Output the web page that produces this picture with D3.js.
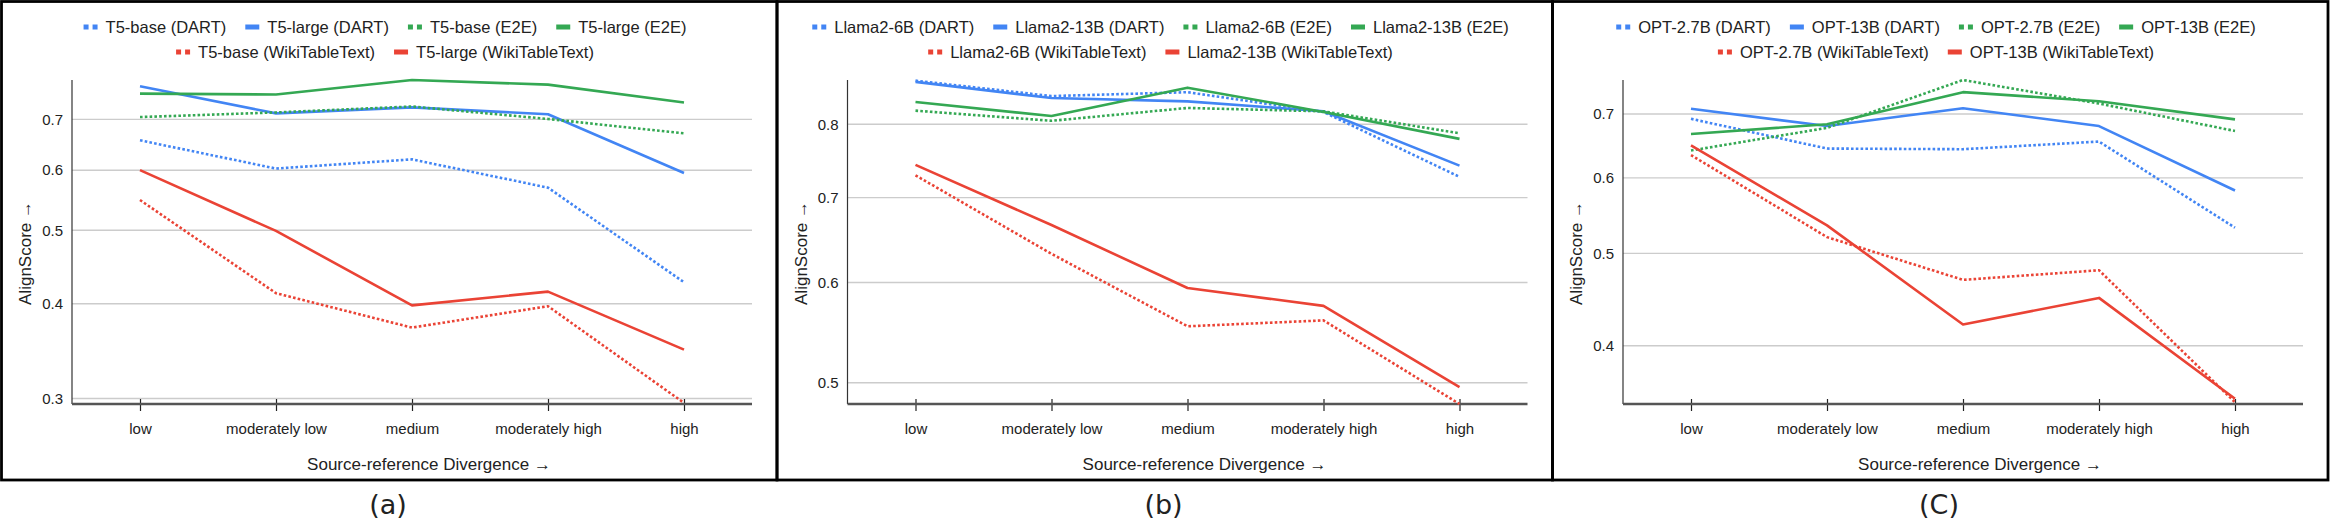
<!DOCTYPE html>
<html>
<head>
<meta charset="utf-8">
<script src="https://cdn.jsdelivr.net/npm/d3@7"></script>
<style>
  body { margin: 0; background: #fff; }
  svg text { font-family: "Liberation Sans", Arial, sans-serif; fill: #222; }
</style>
</head>
<body>
<div id="chart"></div>
<script>
// categories on the x axis
var categories = ["low", "moderately low", "medium", "moderately high", "high"];

// panel (a) - T5
var t5BaseDart  = [0.657, 0.603, 0.620, 0.569, 0.427];
var t5LargeDart = [0.774, 0.713, 0.726, 0.711, 0.595];
var t5BaseE2e   = [0.705, 0.715, 0.728, 0.701, 0.671];
var t5LargeE2e  = [0.757, 0.755, 0.789, 0.778, 0.737];
var t5BaseWiki  = [0.548, 0.413, 0.372, 0.397, 0.296];
var t5LargeWiki = [0.600, 0.499, 0.398, 0.415, 0.348];

// panel (b) - Llama2
var llama6Dart  = [0.866, 0.842, 0.848, 0.818, 0.727];
var llama13Dart = [0.864, 0.839, 0.834, 0.819, 0.742];
var llama6E2e   = [0.820, 0.805, 0.824, 0.819, 0.787];
var llama13E2e  = [0.833, 0.812, 0.855, 0.818, 0.779];
var llama6Wiki  = [0.729, 0.632, 0.554, 0.560, 0.481];
var llama13Wiki = [0.743, 0.666, 0.594, 0.575, 0.496];

// panel (c) - OPT
var opt27Dart = [0.692, 0.644, 0.643, 0.655, 0.532];
var opt13Dart = [0.709, 0.680, 0.710, 0.680, 0.582];
var opt27E2e  = [0.641, 0.677, 0.760, 0.718, 0.672];
var opt13E2e  = [0.667, 0.683, 0.738, 0.722, 0.691];
var opt27Wiki = [0.634, 0.520, 0.469, 0.480, 0.349];
var opt13Wiki = [0.649, 0.535, 0.421, 0.449, 0.352];

// y tick labels per panel
var ticksA = [0.3, 0.4, 0.5, 0.6, 0.7];
var ticksB = [0.5, 0.6, 0.7, 0.8];
var ticksC = [0.4, 0.5, 0.6, 0.7];

var colors = { DART: "#4285F4", E2E: "#34A853", WikiTableText: "#EA4335" };

var panels = [
  { tag: "(a)", small: "T5-base", large: "T5-large", domain: [0.295, 0.789], ticks: ticksA,
    data: [t5BaseDart, t5LargeDart, t5BaseE2e, t5LargeE2e, t5BaseWiki, t5LargeWiki] },
  { tag: "(b)", small: "Llama2-6B", large: "Llama2-13B", domain: [0.481, 0.867], ticks: ticksB,
    data: [llama6Dart, llama13Dart, llama6E2e, llama13E2e, llama6Wiki, llama13Wiki] },
  { tag: "(C)", small: "OPT-2.7B", large: "OPT-13B", domain: [0.3475, 0.760], ticks: ticksC,
    data: [opt27Dart, opt13Dart, opt27E2e, opt13E2e, opt27Wiki, opt13Wiki] }
];

var datasets = ["DART", "DART", "E2E", "E2E", "WikiTableText", "WikiTableText"];

function init() {
  var W = 2331, H = 522;
  var svg = d3.select("#chart").append("svg").attr("width", W).attr("height", H);

  var offsets = [0, 775.5, 1551];
  var plotTop = 80, plotBottom = 404, plotLeft = 72, plotRight = 752;

  panels.forEach(function(p, pi) {
    var g = svg.append("g").attr("transform", "translate(" + offsets[pi] + ",0)");

    // frame
    g.append("rect")
      .attr("x", 1.5).attr("y", 1.5)
      .attr("width", 775.5).attr("height", 478.5)
      .attr("fill", "none").attr("stroke", "#000").attr("stroke-width", 2.8);

    var x = d3.scalePoint().domain(categories).range([plotLeft, plotRight]).padding(0.5);
    var y = d3.scaleLog().domain(p.domain).range([plotBottom, plotTop]);

    // gridlines
    g.selectAll(".grid").data(p.ticks).enter().append("line")
      .attr("x1", plotLeft).attr("x2", plotRight)
      .attr("y1", function(d) { return y(d); })
      .attr("y2", function(d) { return y(d); })
      .attr("stroke", "#cccccc").attr("stroke-width", 1.4);

    // y axis
    var yAxis = d3.axisLeft(y).tickValues(p.ticks).tickSize(0).tickPadding(9)
      .tickFormat(d3.format(".1f"));
    var ya = g.append("g").attr("transform", "translate(" + plotLeft + ",0)").call(yAxis);
    ya.select(".domain").remove();
    ya.selectAll("text").style("font-size", "15px").attr("fill", "#222");
    g.append("line").attr("x1", plotLeft).attr("x2", plotLeft).attr("y1", plotTop).attr("y2", plotBottom)
      .attr("stroke", "#333").attr("stroke-width", 1.2);

    // x axis
    var xAxis = d3.axisBottom(x).tickSize(7).tickPadding(12);
    var xa = g.append("g").attr("transform", "translate(0," + plotBottom + ")").call(xAxis);
    xa.select(".domain").remove();
    xa.selectAll(".tick line").attr("y1", -5).attr("stroke", "#222").attr("stroke-width", 1.2);
    xa.selectAll("text").style("font-size", "15px").attr("fill", "#222");
    g.append("line").attr("x1", plotLeft).attr("x2", plotRight).attr("y1", plotBottom).attr("y2", plotBottom)
      .attr("stroke", "#555").attr("stroke-width", 2.6);

    // lines
    var line = d3.line()
      .x(function(d, i) { return x(categories[i]); })
      .y(function(d) { return y(d); });

    p.data.forEach(function(vals, si) {
      var dotted = si % 2 === 0;
      g.append("path")
        .datum(vals)
        .attr("d", line)
        .attr("fill", "none")
        .attr("stroke", colors[datasets[si]])
        .attr("stroke-width", 2.6)
        .attr("stroke-dasharray", dotted ? "2.6,2.2" : null)
        .attr("stroke-linejoin", "round");
    });

    // axis titles
    g.append("text")
      .attr("x", 429).attr("y", 470)
      .attr("text-anchor", "middle")
      .style("font-size", "17px")
      .text("Source-reference Divergence \u2192");

    g.append("text")
      .attr("transform", "translate(31,253) rotate(-90)")
      .attr("text-anchor", "middle")
      .style("font-size", "17px")
      .text("AlignScore \u2192");

    // legend, two centred rows
    var rows = [[0, 1, 2, 3], [4, 5]];
    rows.forEach(function(row, ri) {
      var lg = g.append("g");
      var cx = 0;
      var ly = ri === 0 ? 27 : 52;
      row.forEach(function(si) {
        var dotted = si % 2 === 0;
        var name = (dotted ? p.small : p.large) + " (" + datasets[si] + ")";
        var col = colors[datasets[si]];
        if (dotted) {
          lg.append("rect").attr("x", cx).attr("y", ly - 2.5).attr("width", 5).attr("height", 5).attr("fill", col);
          lg.append("rect").attr("x", cx + 9).attr("y", ly - 2.5).attr("width", 5).attr("height", 5).attr("fill", col);
        } else {
          lg.append("rect").attr("x", cx).attr("y", ly - 2.5).attr("width", 14).attr("height", 5).attr("fill", col);
        }
        var t = lg.append("text").attr("x", cx + 22).attr("y", ly + 6)
          .style("font-size", "16.5px").text(name);
        cx += 22 + t.node().getComputedTextLength() + 19;
      });
      var wRow = cx - 19;
      lg.attr("transform", "translate(" + (385 - wRow / 2) + ",0)");
    });

    // sub-figure tag
    svg.append("text")
      .attr("x", offsets[pi] + 388).attr("y", 514)
      .attr("text-anchor", "middle")
      .style("font-family", "'DejaVu Sans', sans-serif")
      .style("font-size", "27px")
      .text(p.tag);
  });
}

window.onload = init;
</script>
</body>
</html>
